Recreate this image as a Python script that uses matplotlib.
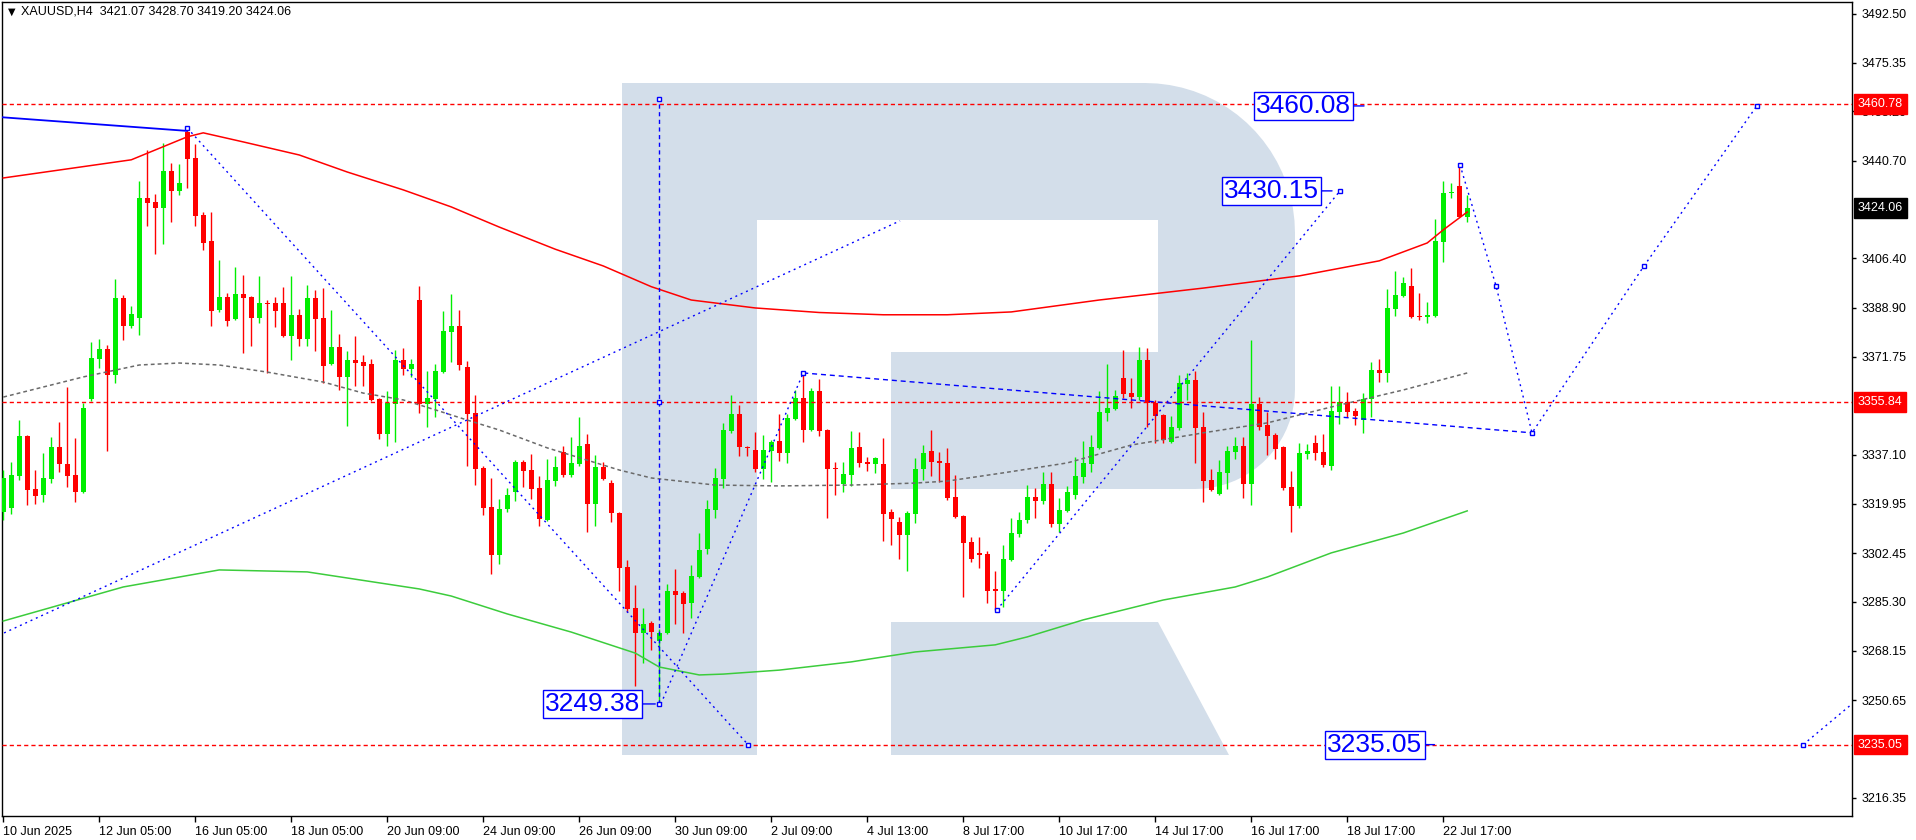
import numpy as np
import matplotlib
matplotlib.use("Agg")
from matplotlib import pyplot as plt
from matplotlib.patches import Polygon
from matplotlib import transforms

W, H = 1916, 840
plt.rcParams['font.family'] = ['Liberation Sans', 'DejaVu Sans']

#======================================================================================================
# XAUUSD H4 candles (one entry per bar, bar 0 = 10 Jun 2025)
opens = [3317.0, 3318.4, 3329.7, 3343.8, 3325.1, 3323.0, 3328.6, 3339.9, 3333.9, 3330.1,
         3324.1, 3356.8, 3370.9, 3374.5, 3365.3, 3392.4, 3382.6, 3385.4, 3427.7, 3426.3,
         3424.1, 3437.2, 3430.1, 3450.9, 3441.8, 3421.6, 3412.5, 3388.2, 3392.8, 3385.0,
         3393.9, 3392.8, 3385.4, 3390.7, 3390.7, 3390.7, 3379.0, 3386.5, 3378.0, 3392.4,
         3385.4, 3369.2, 3375.2, 3364.6, 3370.6, 3369.9, 3369.2, 3356.8, 3344.5, 3355.1,
         3370.6, 3367.4, 3391.7, 3355.1, 3356.8, 3366.4, 3380.4, 3382.6, 3368.1, 3352.0,
         3332.5, 3318.8, 3301.9, 3318.1, 3324.1, 3334.6, 3331.8, 3325.5, 3314.2, 3327.9,
         3338.2, 3330.1, 3333.9, 3341.0, 3319.8, 3332.9, 3327.2, 3316.7, 3297.6, 3283.2,
         3274.4, 3277.9, 3271.6, 3274.4, 3289.2, 3288.5, 3285.0, 3294.1, 3304.0, 3317.7,
         3328.6, 3345.6, 3351.5, 3339.9, 3338.9, 3332.2, 3338.5, 3342.0, 3337.8, 3349.8,
         3357.2, 3345.9, 3359.7, 3345.9, 3332.5, 3326.9, 3330.1, 3339.9, 3334.6, 3333.9,
         3333.9, 3317.0, 3313.5, 3308.9, 3316.3, 3332.2, 3338.5, 3335.0, 3334.3, 3322.3,
         3315.6, 3306.4, 3302.6, 3302.2, 3289.9, 3289.2, 3300.1, 3309.3, 3314.2, 3322.3,
         3320.9, 3326.9, 3312.8, 3317.4, 3323.0, 3329.4, 3333.9, 3339.6, 3351.9, 3353.3,
         3364.2, 3359.0, 3357.5, 3370.6, 3355.4, 3351.2, 3341.7, 3346.6, 3362.1, 3363.5,
         3347.0, 3328.3, 3323.4, 3330.8, 3338.2, 3340.3, 3326.9, 3355.1, 3347.7, 3344.2,
         3339.9, 3325.8, 3319.1, 3337.5, 3341.3, 3338.2, 3333.2, 3352.3, 3355.8, 3352.6,
         3349.4, 3356.8, 3367.1, 3366.0, 3388.5, 3393.1, 3396.7, 3386.1, 3385.7, 3386.1,
         3412.2, 3429.4, 3431.9, 3421.07]
highs = [3331.8, 3334.6, 3349.4, 3344.3, 3331.8, 3337.8, 3343.4, 3348.7, 3361.1, 3343.1,
         3355.4, 3376.9, 3378.0, 3375.9, 3399.1, 3393.5, 3389.6, 3433.7, 3444.6, 3429.1,
         3447.0, 3440.0, 3439.6, 3452.3, 3446.7, 3422.7, 3422.7, 3405.8, 3394.2, 3403.3,
         3400.5, 3393.0, 3400.2, 3391.7, 3392.8, 3396.3, 3400.2, 3388.5, 3397.0, 3395.2,
         3396.0, 3388.2, 3379.8, 3373.8, 3379.0, 3372.3, 3370.9, 3357.2, 3359.7, 3374.1,
         3374.8, 3370.9, 3396.7, 3366.7, 3369.2, 3387.8, 3393.9, 3388.2, 3370.2, 3358.3,
         3333.2, 3329.0, 3321.6, 3325.5, 3335.3, 3335.3, 3337.5, 3329.7, 3335.7, 3336.8,
         3340.3, 3343.4, 3350.5, 3344.5, 3337.1, 3334.6, 3328.3, 3317.0, 3300.1, 3291.3,
         3283.2, 3278.6, 3275.8, 3291.7, 3296.9, 3289.2, 3298.3, 3309.6, 3321.3, 3332.5,
         3348.4, 3358.3, 3354.7, 3340.3, 3345.2, 3344.2, 3342.4, 3351.5, 3351.5, 3360.0,
         3365.6, 3360.7, 3363.9, 3346.3, 3334.6, 3334.6, 3345.6, 3345.2, 3336.4, 3336.4,
         3343.1, 3318.1, 3315.3, 3317.4, 3336.0, 3340.6, 3345.9, 3338.2, 3339.6, 3330.1,
         3316.0, 3308.2, 3308.2, 3303.3, 3296.2, 3305.4, 3314.9, 3317.0, 3326.5, 3325.5,
         3331.1, 3331.1, 3321.9, 3326.2, 3336.4, 3342.0, 3344.2, 3359.7, 3369.2, 3360.0,
         3374.1, 3364.2, 3375.2, 3374.8, 3356.5, 3351.5, 3350.9, 3365.3, 3366.0, 3366.7,
         3352.3, 3332.2, 3335.3, 3340.3, 3343.4, 3343.4, 3377.6, 3357.5, 3352.3, 3344.9,
         3340.3, 3331.5, 3341.3, 3341.0, 3344.2, 3344.5, 3361.4, 3361.4, 3359.3, 3353.7,
         3359.0, 3369.9, 3370.9, 3395.6, 3402.0, 3399.8, 3403.0, 3394.2, 3391.0, 3420.3,
         3433.6, 3433.0, 3439.3, 3428.70]
lows = [3314.2, 3316.3, 3328.3, 3319.5, 3319.8, 3320.5, 3327.2, 3331.1, 3325.8, 3320.5,
        3323.7, 3356.1, 3367.8, 3338.5, 3362.5, 3377.6, 3381.9, 3379.4, 3417.8, 3407.9,
        3411.5, 3419.2, 3428.7, 3431.1, 3417.8, 3409.3, 3382.6, 3387.5, 3382.6, 3384.5,
        3373.0, 3375.5, 3383.6, 3366.0, 3382.2, 3378.7, 3370.6, 3375.5, 3375.5, 3373.7,
        3362.5, 3368.8, 3360.0, 3347.3, 3361.4, 3361.4, 3356.1, 3342.7, 3340.3, 3341.7,
        3365.3, 3364.6, 3351.9, 3347.0, 3350.6, 3366.0, 3369.9, 3367.1, 3333.2, 3326.5,
        3316.0, 3295.2, 3298.7, 3317.0, 3320.9, 3325.8, 3321.6, 3312.1, 3313.9, 3326.2,
        3329.4, 3329.4, 3333.2, 3310.0, 3312.1, 3328.3, 3313.5, 3289.2, 3281.8, 3255.7,
        3263.8, 3268.4, 3249.38, 3274.0, 3277.6, 3274.4, 3279.7, 3293.8, 3302.2, 3314.9,
        3325.5, 3344.9, 3336.8, 3336.8, 3331.1, 3328.6, 3327.6, 3335.0, 3334.3, 3349.4,
        3341.7, 3345.6, 3343.8, 3314.9, 3323.0, 3324.1, 3326.2, 3332.9, 3331.5, 3330.8,
        3306.8, 3305.4, 3300.5, 3296.2, 3313.2, 3328.3, 3329.7, 3327.6, 3321.3, 3314.9,
        3287.1, 3299.4, 3297.3, 3285.0, 3282.5, 3283.6, 3299.8, 3308.2, 3313.2, 3314.9,
        3319.8, 3311.7, 3310.0, 3317.0, 3321.6, 3327.2, 3331.1, 3339.2, 3349.1, 3353.0,
        3357.2, 3353.7, 3356.5, 3347.0, 3341.3, 3341.3, 3341.3, 3345.9, 3356.5, 3334.3,
        3320.5, 3324.4, 3323.0, 3325.1, 3335.7, 3322.0, 3319.5, 3345.9, 3337.1, 3335.7,
        3324.8, 3310.0, 3318.4, 3335.7, 3335.3, 3333.0, 3331.8, 3348.0, 3350.5, 3347.7,
        3344.9, 3350.5, 3362.8, 3362.8, 3386.1, 3392.8, 3385.4, 3384.7, 3383.6, 3385.7,
        3405.1, 3427.7, 3421.0, 3419.20]
closes = [3329.0, 3330.1, 3343.8, 3324.8, 3322.7, 3329.0, 3339.9, 3333.9, 3329.7, 3324.1,
          3353.7, 3371.3, 3374.5, 3365.3, 3392.4, 3382.6, 3386.8, 3427.7, 3425.9, 3424.1,
          3437.2, 3430.1, 3432.9, 3441.4, 3421.3, 3411.8, 3387.8, 3392.8, 3384.3, 3393.9,
          3392.4, 3385.4, 3390.7, 3390.3, 3387.8, 3379.0, 3386.5, 3378.0, 3392.4, 3385.0,
          3368.5, 3375.2, 3364.6, 3370.6, 3369.5, 3368.5, 3356.5, 3344.5, 3355.4, 3370.6,
          3367.4, 3369.2, 3355.1, 3357.2, 3366.7, 3380.8, 3382.6, 3368.8, 3351.7, 3332.2,
          3318.4, 3301.9, 3318.1, 3323.0, 3334.6, 3331.5, 3325.1, 3314.6, 3328.3, 3332.9,
          3330.1, 3334.3, 3340.3, 3319.8, 3332.9, 3328.6, 3316.7, 3297.3, 3282.8, 3274.4,
          3277.6, 3274.7, 3274.4, 3289.2, 3287.8, 3284.6, 3294.4, 3303.6, 3318.1, 3329.0,
          3345.9, 3351.5, 3339.9, 3339.6, 3332.2, 3338.9, 3341.7, 3337.8, 3350.1, 3357.2,
          3345.9, 3359.7, 3345.6, 3332.2, 3332.2, 3330.4, 3339.6, 3334.3, 3333.9, 3336.0,
          3316.3, 3314.6, 3308.9, 3316.7, 3332.2, 3337.8, 3334.6, 3334.3, 3321.9, 3315.3,
          3306.1, 3300.5, 3301.9, 3289.2, 3289.2, 3300.5, 3309.6, 3314.2, 3322.3, 3320.9,
          3326.9, 3312.8, 3317.7, 3324.1, 3329.7, 3334.3, 3339.9, 3352.3, 3353.7, 3357.9,
          3358.6, 3357.5, 3370.6, 3355.4, 3350.9, 3342.4, 3347.0, 3362.5, 3363.5, 3346.6,
          3327.9, 3324.8, 3331.1, 3338.5, 3340.3, 3326.9, 3355.1, 3347.0, 3343.8, 3339.2,
          3325.5, 3319.1, 3337.8, 3338.5, 3337.8, 3333.4, 3352.6, 3355.8, 3352.3, 3350.9,
          3356.8, 3367.1, 3366.0, 3388.9, 3393.5, 3397.7, 3385.7, 3385.7, 3386.4, 3412.5,
          3429.4, 3429.8, 3421.07, 3424.06]

# Moving averages (bar index, price)
ma_red_bar = [0, 16, 23, 25, 30, 37, 43, 50, 56, 62, 69, 75, 81, 86, 94, 102, 110, 118, 126, 137,
              150, 162, 172, 178, 180, 183]
ma_red_val = [3434.7, 3441.1, 3449.2, 3450.6, 3447.4, 3442.8, 3436.8, 3430.5, 3424.5, 3417.4, 3409.6,
              3403.7, 3396.4, 3391.7, 3388.9, 3387.3, 3386.5, 3386.5, 3387.5, 3391.7, 3395.9, 3400.2,
              3405.5, 3411.8, 3416.4, 3422.7]
ma_gray_bar = [0, 10, 17, 22, 27, 33, 40, 45, 50, 54, 58, 62, 68, 77, 81, 89, 97, 106, 114, 118,
               125, 133, 141, 150, 158, 166, 175, 183]
ma_gray_val = [3357.5, 3364.6, 3368.8, 3369.5, 3368.8, 3366.3, 3362.8, 3358.9, 3356.5, 3353.0, 3349.4,
               3345.9, 3339.6, 3331.8, 3329.0, 3326.5, 3326.2, 3326.5, 3327.2, 3327.9, 3330.8, 3334.3,
               3340.6, 3344.9, 3348.4, 3354.0, 3360.0, 3366.0]
ma_green_bar = [0, 15, 27, 38, 52, 56, 63, 71, 79, 82, 87, 90, 97, 106, 114, 124, 128, 135, 145, 154,
                158, 166, 175, 183]
ma_green_val = [3278.6, 3290.6, 3296.6, 3295.9, 3289.9, 3287.4, 3281.1, 3274.7, 3267.3, 3262.4, 3259.6,
                3259.9, 3261.3, 3264.2, 3267.7, 3270.2, 3273.0, 3279.0, 3286.0, 3290.6, 3294.1, 3302.6,
                3309.6, 3317.4]

# Horizontal levels
level_prices = [3460.78, 3355.84, 3235.05]
last_price = 3424.06

# Analyst drawings (bar index, price)
trend_a_bar, trend_a_val = [0.1, 112.1], [3274.4, 3419.6]
trend_b_bar, trend_b_val = [23.0, 93.1], [3452.3, 3235.05]
vert_bar, vert_val = [82.0, 82.0], [3249.38, 3462.6]
trend_d_bar, trend_d_val = [82.2, 100.0], [3249.38, 3366.0]
trend_e_bar, trend_e_val = [100.0, 191.1], [3366.0, 3344.9]
trend_f_bar, trend_f_val = [124.2, 167.1], [3282.5, 3430.15]
forecast_bar = [182.1, 186.6, 191.1, 205.1, 219.2]
forecast_val = [3439.3, 3396.7, 3344.9, 3403.7, 3460.08]
trend_h_bar, trend_h_val = [225.0, 232.0], [3235.05, 3251.5]
solid_bar, solid_val = [-0.2, 22.9], [3456.1, 3451.3]

label_vals = [3460.08, 3430.15, 3249.38, 3235.05]
label_bars = [170.1, 166.1, 81.5, 178.9]
label_dx = [-13, -13, -15, -12]

# tick labels hidden behind the level boxes are left out
ytick_vals = [3492.50, 3475.35, 3458.20, 3440.70, 3406.40, 3388.90, 3371.75,
              3337.10, 3319.95, 3302.45, 3285.30, 3268.15, 3250.65, 3216.35]
xtick_bars = list(range(0, 181, 12))
xtick_labels = ['10 Jun 2025', '12 Jun 05:00', '16 Jun 05:00', '18 Jun 05:00', '20 Jun 09:00',
                '24 Jun 09:00', '26 Jun 09:00', '30 Jun 09:00', '2 Jul 09:00', '4 Jul 13:00',
                '8 Jul 17:00', '10 Jul 17:00', '14 Jul 17:00', '16 Jul 17:00', '18 Jul 17:00',
                '22 Jul 17:00']

#======================================================================================================

def fig_pts(points):
    return [(x / W, 1 - y / H) for x, y in points]


def arc(cx, cy, r, t0, t1, n=20):
    t = np.radians(np.linspace(t0, t1, n))
    return [(cx + r * np.cos(a), cy - r * np.sin(a)) for a in t]


def draw_watermark(ax, fig):
    col = '#d3deea'
    outer = [(622, 83)] + arc(1145, 233, 150, 90, 0) + arc(1195, 389, 100, 0, -90) + \
            [(891, 489), (891, 352), (1158, 352), (1158, 220), (757, 220), (757, 755), (622, 755)]
    leg = [(891, 622), (1158, 622), (1229, 755), (891, 755)]
    for shape in (outer, leg):
        ax.add_patch(Polygon(fig_pts(shape), closed=True, transform=fig.transFigure,
                             facecolor=col, edgecolor='none', zorder=0.5))


def main():
    o, h, l, c = map(np.array, (opens, highs, lows, closes))
    idx = np.arange(len(o))

    fig = plt.figure(figsize=(W / 100, H / 100), dpi=100)
    ax = fig.add_axes([2 / W, 24 / H, 1850 / W, 814 / H])
    ax.set_xlim(-0.16, 231.1)
    ax.set_ylim(3209.9, 3496.7)

    draw_watermark(ax, fig)

    # candles
    colors = np.where(c >= o, '#00ee00', '#ff0000')
    ax.vlines(idx, l, h, colors=colors, linewidth=1, zorder=3)
    body_lo = np.minimum(o, c)
    body_h = np.maximum(np.abs(c - o), 0.4)
    ax.bar(idx, body_h, bottom=body_lo, width=0.6, color=colors, linewidth=0, zorder=4)

    # indicators
    ax.plot(ma_red_bar, ma_red_val, color='#ff0000', lw=1.1, zorder=5)
    ax.plot(ma_green_bar, ma_green_val, color='#3ccc3c', lw=1.1, zorder=5)
    ax.plot(ma_gray_bar, ma_gray_val, color='#6a6a6a', lw=1.1, dashes=(2.5, 2), zorder=5)

    for p in level_prices:
        ax.axhline(p, color='#ff0000', lw=1, dashes=(3, 2.2), zorder=5)

    # drawings
    blue = '#0000ff'
    dot = dict(color=blue, lw=1, dashes=(1.4, 2.8), zorder=6)
    for bx, by in [(trend_a_bar, trend_a_val), (trend_b_bar, trend_b_val), (trend_d_bar, trend_d_val),
                   (trend_f_bar, trend_f_val), (forecast_bar, forecast_val), (trend_h_bar, trend_h_val)]:
        ax.plot(bx, by, **dot)
    ax.plot(vert_bar, vert_val, color=blue, lw=1, dashes=(3, 2.5), zorder=6)
    ax.plot(trend_e_bar, trend_e_val, color=blue, lw=1, dashes=(3.6, 2.8), zorder=6)
    ax.plot(solid_bar, solid_val, color=blue, lw=1.3, zorder=6)

    mk_bar = [trend_b_bar[0], vert_bar[0], vert_bar[0], vert_bar[1], trend_b_bar[1], trend_d_bar[1],
              trend_f_bar[0], trend_f_bar[1], trend_h_bar[0]] + forecast_bar
    mk_val = [trend_b_val[0], vert_val[0], level_prices[1], vert_val[1], trend_b_val[1], trend_d_val[1],
              trend_f_val[0], trend_f_val[1], trend_h_val[0]] + forecast_val
    ax.plot(mk_bar, mk_val, ls='none', marker='s', ms=3.5, mfc='white', mec=blue, mew=1, zorder=7)

    for b, v, dx in zip(label_bars, label_vals, label_dx):
        ax.annotate(f'{v:.2f}', xy=(b, v), xytext=(dx, 0), textcoords='offset pixels',
                    ha='right', va='center', fontsize=19, color=blue, zorder=8,
                    bbox=dict(boxstyle='square,pad=0.08', fc='white', ec=blue, lw=1),
                    arrowprops=dict(arrowstyle='-', color=blue, lw=1, shrinkA=0, shrinkB=0))

    # axes
    ax.yaxis.tick_right()
    ax.set_yticks(ytick_vals)
    ax.set_yticklabels([f'{v:.2f}' for v in ytick_vals])
    ax.set_xticks(xtick_bars)
    ax.set_xticklabels(xtick_labels, ha='left')
    ax.tick_params(axis='y', direction='out', length=3, width=1, labelsize=9, pad=4, colors='black')
    ax.tick_params(axis='x', direction='out', length=4, width=1, labelsize=9, pad=3, colors='black')
    for s in ax.spines.values():
        s.set_color('black')
        s.set_linewidth(1)

    trans = transforms.blended_transform_factory(ax.transAxes, ax.transData)
    for p in level_prices:
        ax.text(1.0032, p, f'{p:.2f}', transform=trans, ha='left', va='center', fontsize=9,
                color='white', clip_on=False, zorder=10,
                bbox=dict(boxstyle='square,pad=0.3', fc='#ff0000', ec='#ff0000'))
    ax.text(1.0032, last_price, f'{last_price:.2f}', transform=trans, ha='left', va='center',
            fontsize=9, color='white', clip_on=False, zorder=10,
            bbox=dict(boxstyle='square,pad=0.3', fc='black', ec='black'))

    header = f'XAUUSD,H4  {o[-1]:.2f} {h[-1]:.2f} {l[-1]:.2f} {c[-1]:.2f}'
    fig.text(8 / W, 1 - 12 / H, '\u25bc', fontsize=7, va='center', family='DejaVu Sans')
    fig.text(21 / W, 1 - 12 / H, header, fontsize=9, va='center')

    fig.savefig('out.png', dpi=100, facecolor='white')


if __name__ == "__main__":
    main()
